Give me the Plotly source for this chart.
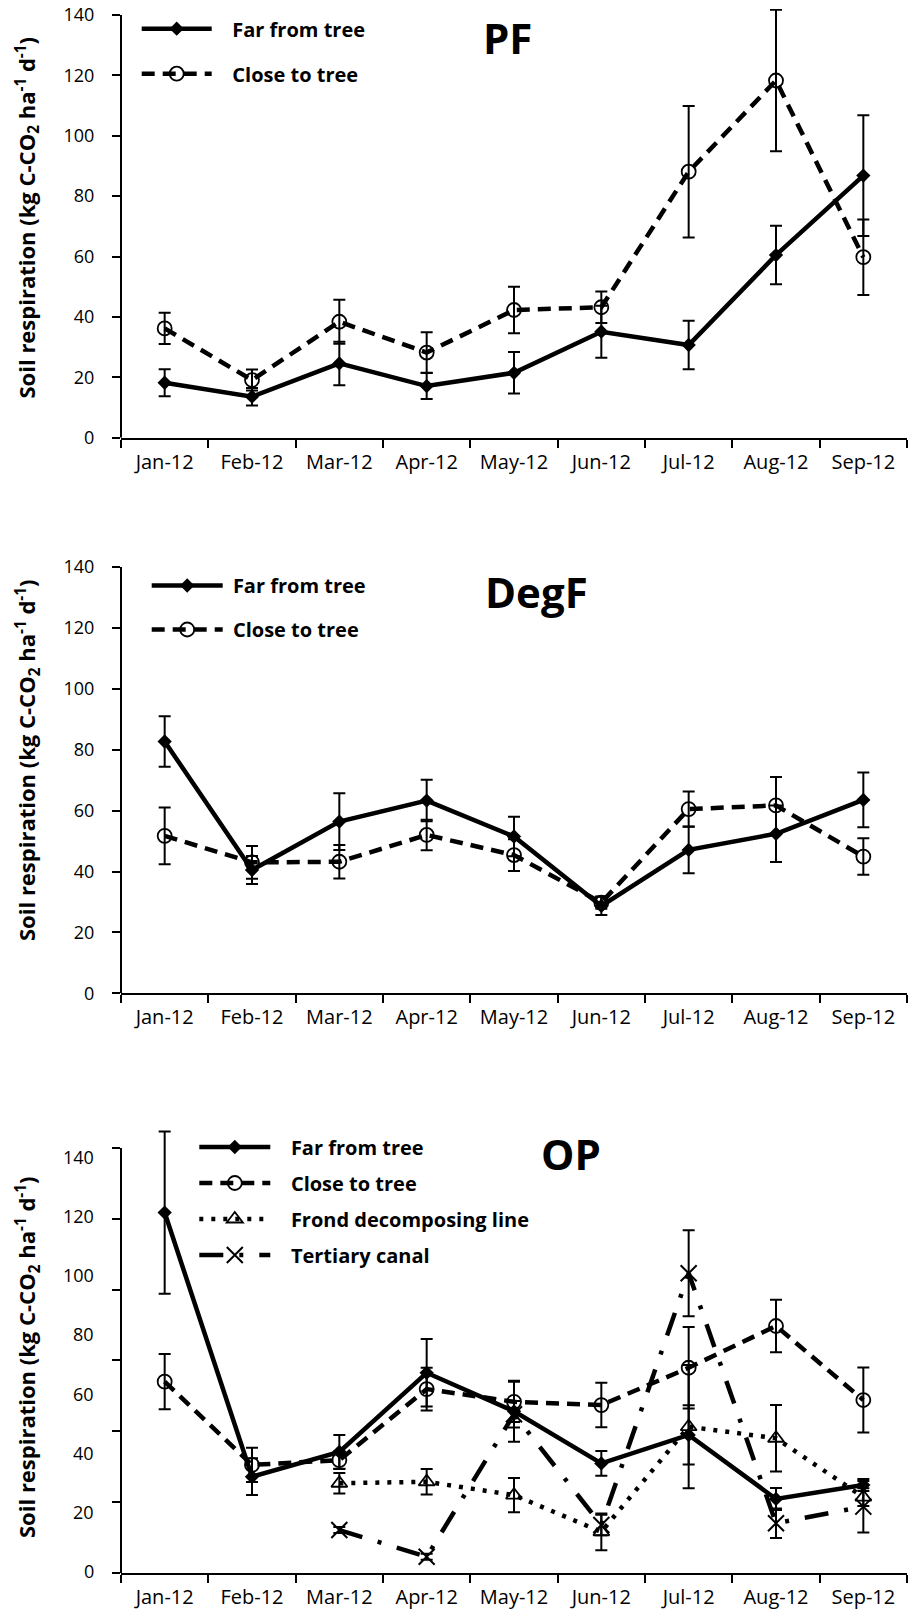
import plotly.graph_objects as go

# ---------------- data ----------------
months = ["Jan-12", "Feb-12", "Mar-12", "Apr-12", "May-12", "Jun-12", "Jul-12", "Aug-12", "Sep-12"]

# PF panel
pf_far = [18.2, 13.6, 24.6, 17.1, 21.5, 35.1, 30.7, 60.5, 86.8]
pf_far_err = [4.5, 2.9, 7.2, 4.3, 6.9, 8.6, 8.0, 9.7, 20.0]
pf_close = [36.2, 19.1, 38.4, 28.2, 42.3, 43.2, 88.1, 118.3, 59.8]
pf_close_err = [5.2, 3.5, 7.3, 6.7, 7.7, 5.2, 21.8, 23.4, 12.5]

# DegF panel
deg_far = [82.7, 40.5, 56.4, 63.3, 51.5, 28.7, 47.1, 52.4, 63.5]
deg_far_err = [8.3, 4.6, 9.3, 6.8, 6.5, 3.0, 7.7, 9.3, 9.0]
deg_close = [51.7, 43.0, 43.2, 52.0, 45.4, 29.8, 60.5, 61.7, 44.9]
deg_close_err = [9.3, 5.4, 5.5, 5.0, 5.2, 2.0, 5.8, 9.3, 6.0]

# OP panel
op_far = [121.1, 31.9, 40.3, 67.0, 54.0, 36.4, 46.0, 24.4, 29.1]
op_far_err = [27.4, 6.2, 5.7, 11.4, 10.3, 4.2, 10.0, 3.7, 2.0]
op_close = [64.0, 35.9, 37.5, 61.5, 57.2, 56.1, 68.7, 82.8, 57.8]
op_close_err = [9.3, 5.8, 3.0, 7.2, 6.8, 7.5, 13.8, 8.9, 11.0]
op_frond = [None, None, 29.7, 30.2, 25.7, 13.3, 48.8, 44.9, 25.0]
op_frond_err = [None, None, 3.5, 4.3, 5.8, 6.2, 20.8, 11.2, 3.0]
op_canal = [None, None, 13.9, 4.9, 53.0, 15.6, 100.6, 16.2, 21.8]
op_canal_err = [None, None, 1.0, 1.0, 4.5, 3.5, 14.5, 5.0, 8.7]

y_ticks = [0, 20, 40, 60, 80, 100, 120, 140]
# the OP panel's tick marks do not line up with its labels in the original
op_tickmarks = [-0.57 + 23.91 * i for i in range(7)]

# ---------------- geometry ----------------
# the page's body margin is removed (see post_script), so figure pixels = page pixels
OFF = 0
W, H = 908 - OFF, 1613 - OFF
L, R = 121 - OFF, 1
PW = W - L - R
FONT = "Open Sans"
BLACK = "#000000"


def fx(px):
    return (px - OFF - L) / PW


def fy(py):
    return 1 - (py - OFF) / H


STY = {
    "far": dict(line=dict(color=BLACK, width=4.5, dash="solid"),
                marker=dict(symbol="diamond", size=11, color=BLACK)),
    "close": dict(line=dict(color=BLACK, width=4.5, dash="13px,8px"),
                  marker=dict(symbol="circle-open", size=14, color=BLACK, line=dict(width=1.8))),
    "frond": dict(line=dict(color=BLACK, width=4.5, dash="4px,8px"),
                  marker=dict(symbol="triangle-up-open", size=14, color=BLACK, line=dict(width=1.8))),
    "canal": dict(line=dict(color=BLACK, width=4.5, dash="24px,16px,4px,16px"),
                  marker=dict(symbol="x-thin-open", size=16, color=BLACK, line=dict(width=2))),
}
NAMES = {"far": "Far from tree", "close": "Close to tree",
         "frond": "Frond decomposing line", "canal": "Tertiary canal"}
# extra gap between legend symbol and legend text (non-breaking spaces)
PAD = {"legend": "\u00a0" * 3, "legend2": "\u00a0", "legend3": "\u00a0" * 3}

fig = go.Figure()


def add(kind, vals, errs, xa, ya, legend):
    fig.add_trace(go.Scatter(
        x=months, y=vals, name=PAD[legend] + NAMES[kind], mode="lines+markers",
        xaxis=xa, yaxis=ya, legend=legend, legendgroup=legend + kind,
        cliponaxis=False, connectgaps=False, hoverinfo="x+y",
        error_y=dict(type="data", array=errs, visible=True, color=BLACK, thickness=2, width=6),
        **STY[kind]))


add("far", pf_far, pf_far_err, "x", "y", "legend")
add("close", pf_close, pf_close_err, "x", "y", "legend")
add("far", deg_far, deg_far_err, "x2", "y2", "legend2")
add("close", deg_close, deg_close_err, "x2", "y2", "legend2")
add("far", op_far, op_far_err, "x3", "y3", "legend3")
add("close", op_close, op_close_err, "x3", "y3", "legend3")
add("frond", op_frond, op_frond_err, "x3", "y3", "legend3")
add("canal", op_canal, op_canal_err, "x3", "y3", "legend3")


def domain(px_lo, px_hi, v_lo, v_hi, r_lo, r_hi):
    """vertical domain so that value v_lo sits at pixel px_lo and v_hi at px_hi"""
    k = (px_lo - px_hi) / (v_hi - v_lo)
    top = px_hi - (r_hi - v_hi) * k
    bot = px_lo + (v_lo - r_lo) * k
    return [max(0.0, fy(bot)), min(1.0, fy(top))]


R1 = [0, 142]
R2 = [0, 140]
R3 = [-0.57, 150]
doms = [domain(437.7, 15, 0, 140, *R1),
        domain(993.3, 567, 0, 140, *R2),
        domain(1572.9, 1148, -0.57, 142.9, *R3)]

xcommon = dict(type="category", categoryorder="array", categoryarray=months,
               range=[-0.5, 8.5], tickson="boundaries", ticks="outside", ticklen=8,
               tickwidth=2, tickcolor=BLACK, showline=True, linewidth=2, linecolor=BLACK,
               showgrid=False, zeroline=False, tickfont=dict(family=FONT, size=20, color=BLACK),
               ticklabelstandoff=5, domain=[0, 1], fixedrange=True, automargin=False)
ycommon = dict(ticks="outside", ticklen=8, tickwidth=2, tickcolor=BLACK, showline=False,
               showgrid=False, zeroline=False, ticklabeloverflow="allow",
               tickfont=dict(family=FONT, size=18, color=BLACK), ticklabelstandoff=14,
               fixedrange=True, automargin=False)

layout = dict(
    width=W, height=H, margin=dict(l=L, r=R, t=0, b=0, autoexpand=False),
    paper_bgcolor="white", plot_bgcolor="white",
    font=dict(family=FONT, color=BLACK),
    xaxis=dict(anchor="y", **xcommon),
    xaxis2=dict(anchor="y2", **xcommon),
    xaxis3=dict(anchor="y3", **xcommon),
    yaxis=dict(anchor="x", domain=doms[0], range=R1, tickmode="array",
               tickvals=y_ticks, **ycommon),
    yaxis2=dict(anchor="x2", domain=doms[1], range=R2, tickmode="array",
                tickvals=y_ticks, **ycommon),
    yaxis3=dict(anchor="x3", domain=doms[2], range=R3, tickmode="array",
                tickvals=op_tickmarks, showticklabels=False, **ycommon),
)

legfont = dict(family=FONT, size=20, color=BLACK, weight="bold")


def leg(line_start_px, ytop_px, itemwidth, gap):
    return dict(x=fx(line_start_px - 5), y=fy(ytop_px), xanchor="left", yanchor="top",
                font=legfont, bgcolor="rgba(0,0,0,0)", itemwidth=itemwidth,
                tracegroupgap=gap, orientation="v")


layout["legend"] = leg(141.7, 9.2, 70, 16)
layout["legend2"] = leg(151.7, 566, 71, 15)
layout["legend3"] = leg(199.3, 1127.5, 71, 7)

fig.update_layout(**layout)

# y-axis lines stop at the top labelled value (error bars may go above them)
for yref, y0, y1 in (("y", 0, 140), ("y2", 0, 140), ("y3", -0.57, 142.9)):
    xr = "x domain" if yref == "y" else "x%s domain" % yref[1:]
    fig.add_shape(type="line", xref=xr, yref=yref, x0=0, x1=0, y0=y0, y1=y1,
                  line=dict(color=BLACK, width=2), layer="above")

# OP tick labels (placed where the original puts them)
for v in y_ticks:
    fig.add_annotation(text=str(v), xref="paper", yref="y3", x=fx(96), y=v,
                       xanchor="right", yanchor="middle", showarrow=False,
                       font=dict(family=FONT, size=18, color=BLACK))

# y-axis titles
ytitle = "Soil respiration (kg C-CO<sub>2</sub> ha<sup>-1</sup> d<sup>-1</sup>)"
for ymid in (217.5, 760, 1357):
    fig.add_annotation(text=ytitle, xref="paper", yref="paper", x=fx(27),
                       y=fy(ymid), xanchor="center", yanchor="middle", textangle=-90,
                       showarrow=False, font=dict(family=FONT, size=22, color=BLACK, weight="bold"))

# panel titles
for txt, xc, yc in (("PF", 507.0, 37.5), ("DegF", 536.2, 592.0), ("OP", 570.5, 1153.5)):
    fig.add_annotation(text=txt, xref="paper", yref="paper", x=fx(xc),
                       y=fy(yc), xanchor="center", yanchor="middle", showarrow=False,
                       font=dict(family=FONT, size=42, color=BLACK, weight="bold"))

fig.write_html("out.html", config={"displayModeBar": False},
               post_script="document.body.style.margin='0px';")
